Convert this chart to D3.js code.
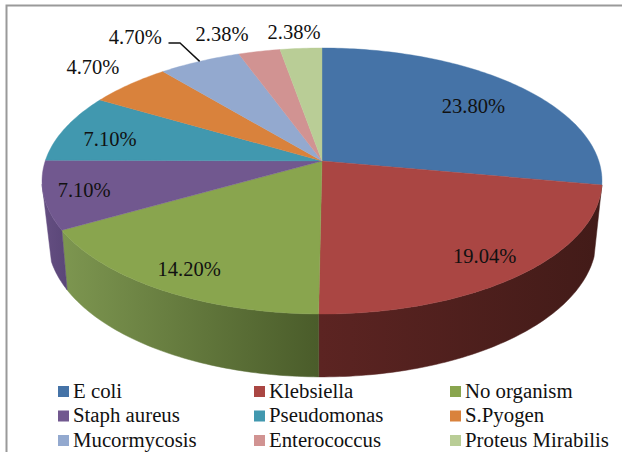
<!DOCTYPE html>
<html>
<head>
<meta charset="utf-8">
<script src="https://cdn.jsdelivr.net/npm/d3@7/dist/d3.min.js"></script>
<style>
html,body{margin:0;padding:0;background:#fff;overflow:hidden}
svg{display:block}
text{font-family:"Liberation Serif","Times New Roman",serif;fill:#111}
</style>
</head>
<body>
<svg id="c" width="622" height="452"></svg>
<script>
const categories = ["E coli","Klebsiella","No organism","Staph aureus","Pseudomonas","S.Pyogen","Mucormycosis","Enterococcus","Proteus Mirabilis"];
const values = [23.80,19.04,14.20,7.10,7.10,4.70,4.70,2.38,2.38];
const valueLabels = ["23.80%","19.04%","14.20%","7.10%","7.10%","4.70%","4.70%","2.38%","2.38%"];
const colors = ["#4573a7","#aa4643","#89a54e","#71588f","#4198af","#d9823c","#93a9cf","#d19392","#b9cd96"];
const sideStops = [null,["#5c2422","#421b18"],["#7d9650","#4a5c2a"],["#654f82","#5a4678"],null,null,null,null,null];

const W=622,H=452,cx=322,cy=161;
const svg=d3.select("#c");
const defs=svg.append("defs");

// frame
svg.append("path").attr("d",`M6.5 452V5.5H${W}`).attr("fill","none").attr("stroke","#9a9a9a").attr("stroke-width",2);

const arcs=d3.pie().sort(null).value(d=>d)(values);

// perspective projection of the pie disc
const persp=0.1504,R=276.8,Ktop=130,Kbot=135,cyBot=218,sBot=0.98;
const projTop=t=>{const u=Math.sin(t),v=-Math.cos(t),f=1/(1-persp*v);return [cx+R*u*f,cy+Ktop*v*f];};
const projBot=t=>{const u=Math.sin(t),v=-Math.cos(t),f=1/(1-persp*v);return [cx+sBot*R*u*f,cyBot+Kbot*v*f];};
const range=(a,b)=>{const n=Math.max(4,Math.ceil((b-a)*60));return d3.range(n+1).map(i=>a+(b-a)*i/n);};
const line=d3.line();
const deg=Math.PI/180;
// the wall's rims meet along the silhouette, so they are trimmed at both ends
const rimStart=106*deg, rimEnd=252*deg, topEnd=260*deg;

// side walls
arcs.forEach((d,i)=>{
  if(!sideStops[i])return;
  const ts=range(d.startAngle,Math.min(d.endAngle,topEnd));
  const bs=range(Math.max(d.startAngle,rimStart),Math.min(d.endAngle,rimEnd));
  const pts=ts.map(projTop).concat(bs.reverse().map(projBot));
  const xs=d3.extent(pts,p=>p[0]);
  const g=defs.append("linearGradient").attr("id","side"+i).attr("gradientUnits","userSpaceOnUse")
    .attr("x1",xs[0]).attr("x2",xs[1]).attr("y1",0).attr("y2",0);
  g.append("stop").attr("offset",0).attr("stop-color",sideStops[i][0]);
  g.append("stop").attr("offset",1).attr("stop-color",sideStops[i][1]);
  svg.append("path").attr("d",line(pts)+"Z").attr("fill",`url(#side${i})`)
    .attr("stroke",`url(#side${i})`).attr("stroke-width",0.5);
});

// top faces
arcs.forEach((d,i)=>{
  const pts=[[cx,cy]].concat(range(d.startAngle,d.endAngle).map(projTop));
  svg.append("path").attr("d",line(pts)+"Z").attr("fill",colors[i]).attr("stroke",colors[i]).attr("stroke-width",0.4);
});

// data labels
const labelFrac=[0.62,0.62,0.68,0.88,0.84,1.17,1.3,1.19,1.16];
const labelAdj=[[27,-6],[45,28],[-28,24],[6,-1],[5,6],[-7,-6],[-33,1],[-27,0],[-4,-1]];
arcs.forEach((d,i)=>{
  const mid=(d.startAngle+d.endAngle)/2;
  const u=Math.sin(mid),v=-Math.cos(mid),f=1/(1-persp*v*labelFrac[i]),r=labelFrac[i];
  svg.append("text")
    .attr("x",cx+R*r*u*f+labelAdj[i][0]).attr("y",cy+Ktop*r*v*f+labelAdj[i][1])
    .attr("text-anchor","middle").attr("dominant-baseline","central")
    .attr("font-size",20.5).text(valueLabels[i]);
});

// leader line for Mucormycosis label
const mid6=(arcs[6].startAngle+arcs[6].endAngle)/2;
const e=projTop(mid6);
svg.append("path").attr("d",`M168.5 43H180L${e[0]} ${e[1]}`).attr("fill","none").attr("stroke","#111").attr("stroke-width",1.4);

// legend
const lx=d3.scaleBand().domain([0,1,2]).range([58,646]);
const ly=d3.scaleBand().domain([0,1,2]).range([386,459.5]);
categories.forEach((c,i)=>{
  const col=i%3,row=Math.floor(i/3);
  const x=lx(col),y=ly(row);
  svg.append("rect").attr("x",x).attr("y",y).attr("width",11).attr("height",11).attr("fill",colors[i]);
  svg.append("text").attr("x",x+15).attr("y",y+11.5).attr("font-size",20.8).text(c);
});
</script>
</body>
</html>
